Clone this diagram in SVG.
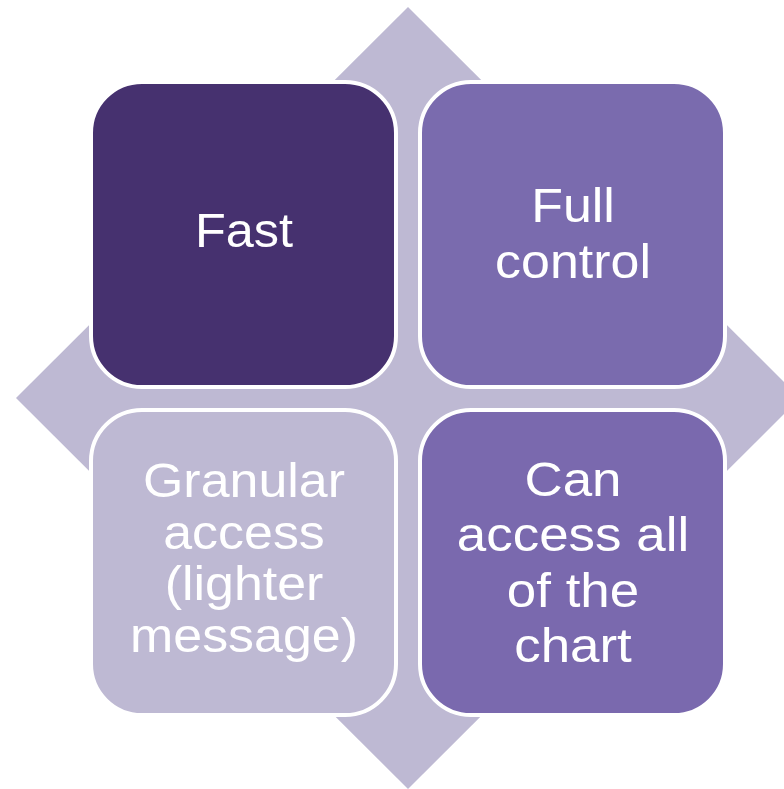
<svg xmlns="http://www.w3.org/2000/svg" width="784" height="789" viewBox="0 0 784 789">
  <style>
    .box { stroke: #FFFFFF; stroke-width: 4; }
    .lbl { font-family: "Liberation Sans", Arial, sans-serif; font-size: 49px; fill: #FFFFFF; text-anchor: middle; }
  </style>
  <rect width="784" height="789" fill="#FFFFFF"/>
  <!-- background diamond -->
  <g id="diamond">
    <polygon points="408,7 800,398 408,789 16,398" fill="#BEB9D3"/>
  </g>
  <g id="connectors"/>
  <g id="node-fast">
    <rect class="box" x="91" y="82" width="305" height="305" rx="51" fill="#46316F"/>
    <g transform="translate(244,0) scale(1.03,1)">
      <text class="lbl" x="0" y="247">Fast</text>
    </g>
  </g>
  <g id="node-full-control">
    <rect class="box" x="420" y="82" width="305" height="305" rx="51" fill="#7A6BAE"/>
    <g transform="translate(573,0) scale(1.06,1)">
      <text class="lbl" x="0" y="222">Full</text>
      <text class="lbl" x="0" y="278">control</text>
    </g>
  </g>
  <g id="node-granular">
    <rect class="box" x="91" y="410" width="305" height="305" rx="51" fill="#BEB9D3"/>
    <g transform="translate(244,0) scale(1.06,1)">
      <text class="lbl" x="0" y="497">Granular</text>
      <text class="lbl" x="0" y="549">access</text>
      <text class="lbl" x="0" y="600">(lighter</text>
      <text class="lbl" x="0" y="652">message)</text>
    </g>
  </g>
  <g id="node-access-all">
    <rect class="box" x="420" y="410" width="305" height="305" rx="51" fill="#7A69AE"/>
    <g transform="translate(573,0) scale(1.08,1)">
      <text class="lbl" x="0" y="496">Can</text>
      <text class="lbl" x="0" y="551">access all</text>
      <text class="lbl" x="0" y="607">of the</text>
      <text class="lbl" x="0" y="662">chart</text>
    </g>
  </g>
</svg>
